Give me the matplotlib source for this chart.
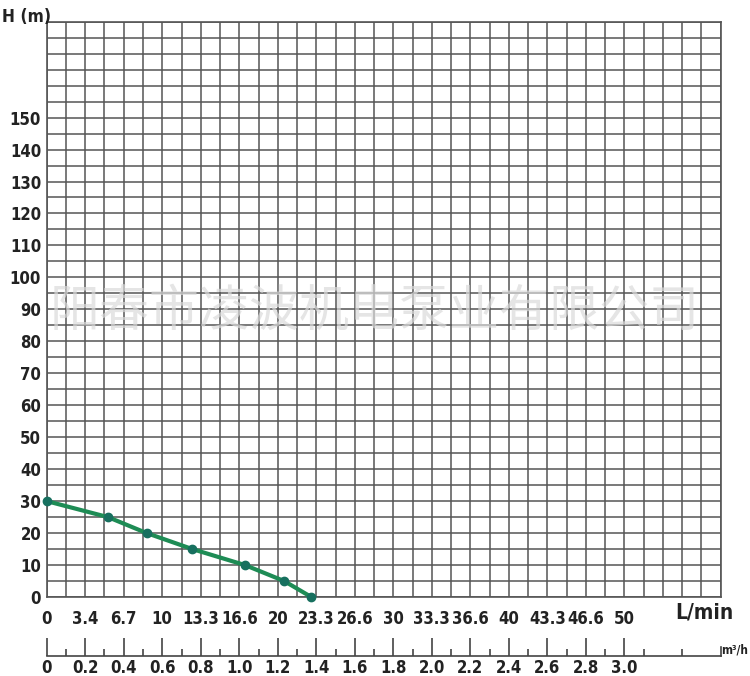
import matplotlib.pyplot as plt
import numpy as np

# pump curve
flow_lmin = [0, 5.3, 8.65, 12.6, 17.15, 20.55, 22.9]
head_m = [30, 25, 20, 15, 10, 5, 0]

lmin_labels = ['0', '3.4', '6.7', '10', '13.3', '16.6', '20', '23.3', '26.6',
               '30', '33.3', '36.6', '40', '43.3', '46.6', '50']
m3h_labels = ['0', '0.2', '0.4', '0.6', '0.8', '1.0', '1.2', '1.4', '1.6',
              '1.8', '2.0', '2.2', '2.4', '2.6', '2.8', '3.0']
head_ticks = list(range(0, 160, 10))
watermark = '阳春市凌波机电泵业有限公司'

plt.rcParams['font.family'] = ['DejaVu Sans']
plt.rcParams['font.stretch'] = 'condensed'
plt.rcParams['font.weight'] = 'bold'
TXT = '#222222'

W, H = 750, 676
fig = plt.figure(figsize=(W / 100, H / 100), dpi=100)

# main grid, 35 columns of 1/10 m3/h (= 5/3 L/min), 36 rows of 5 m
x0, x1, y0, y1 = 46.7, 720.7, 597, 21.7
ax = fig.add_axes([x0 / W, 1 - y0 / H, (x1 - x0) / W, (y0 - y1) / H])
col = 5 / 3
ax.set_xlim(0, 35 * col)
ax.set_ylim(0, 180)
ax.set_xticks(np.arange(36) * col, minor=True)
ax.set_yticks(np.arange(0, 181, 5), minor=True)
ax.grid(which='both', color='#555555', lw=1.1)
ax.set_axisbelow(True)
for s in ax.spines.values():
    s.set_color('#555555')
    s.set_linewidth(1.2)

ax.set_xticks(np.arange(len(lmin_labels)) * 2 * col)
ax.set_xticklabels(lmin_labels, fontsize=12, fontweight='bold', color=TXT)
ax.set_yticks(head_ticks)
ax.set_yticklabels([str(v) for v in head_ticks], fontsize=12, fontweight='bold', color=TXT)
ax.tick_params(which='both', length=0)
ax.tick_params(axis='x', pad=9)
ax.tick_params(axis='y', pad=4)

fig.text(704 / W, 1 - 613 / H, 'L/min', ha='center', va='center',
         fontsize=15, fontweight='bold', color=TXT)
fig.text(0.003, 1 - 17 / H, 'H (m)', ha='left', va='center', fontsize=12.5,
         fontweight='bold', color=TXT)

ax.plot(flow_lmin, head_m, color='#1e8c55', lw=3, zorder=3, clip_on=False)
ax.plot(flow_lmin, head_m, 'o', ms=6, color='#17705f', zorder=4, clip_on=False)

fig.text(0.499, 1 - 312 / H, watermark, ha='center', va='center', fontsize=36,
         family=['Noto Sans CJK SC', 'DejaVu Sans'], fontweight='normal',
         fontstretch='normal', color='#dadada', alpha=0.7, zorder=5)

# second scale in m3/h
axb = fig.add_axes([x0 / W, 1 - 656 / H, (x1 - x0) / W, 0.001])
axb.set_xlim(0, 3.5)
axb.set_ylim(0, 1)
for k in ['top', 'left', 'right']:
    axb.spines[k].set_visible(False)
axb.spines['bottom'].set_color('#444444')
axb.spines['bottom'].set_linewidth(1.2)
axb.set_yticks([])
axb.set_xticks(np.arange(len(m3h_labels)) * 0.2)
axb.set_xticklabels(m3h_labels, fontsize=12, fontweight='bold', color=TXT)
axb.set_xticks(np.arange(1, 35, 2) * 0.1, minor=True)
axb.tick_params(axis='x', which='major', direction='in', length=13, width=1.2, color='#444444', pad=2)
axb.tick_params(axis='x', which='minor', direction='in', length=5, width=1.2, color='#444444')
axb.axvline(3.5, ymin=0, ymax=13, color='#444444', lw=1.2, clip_on=False)
fig.text(748 / W, 1 - 650 / H, 'm³/h', ha='right', va='center', fontsize=8.5,
         fontweight='bold', color=TXT)

fig.savefig('out.png', dpi=100)
